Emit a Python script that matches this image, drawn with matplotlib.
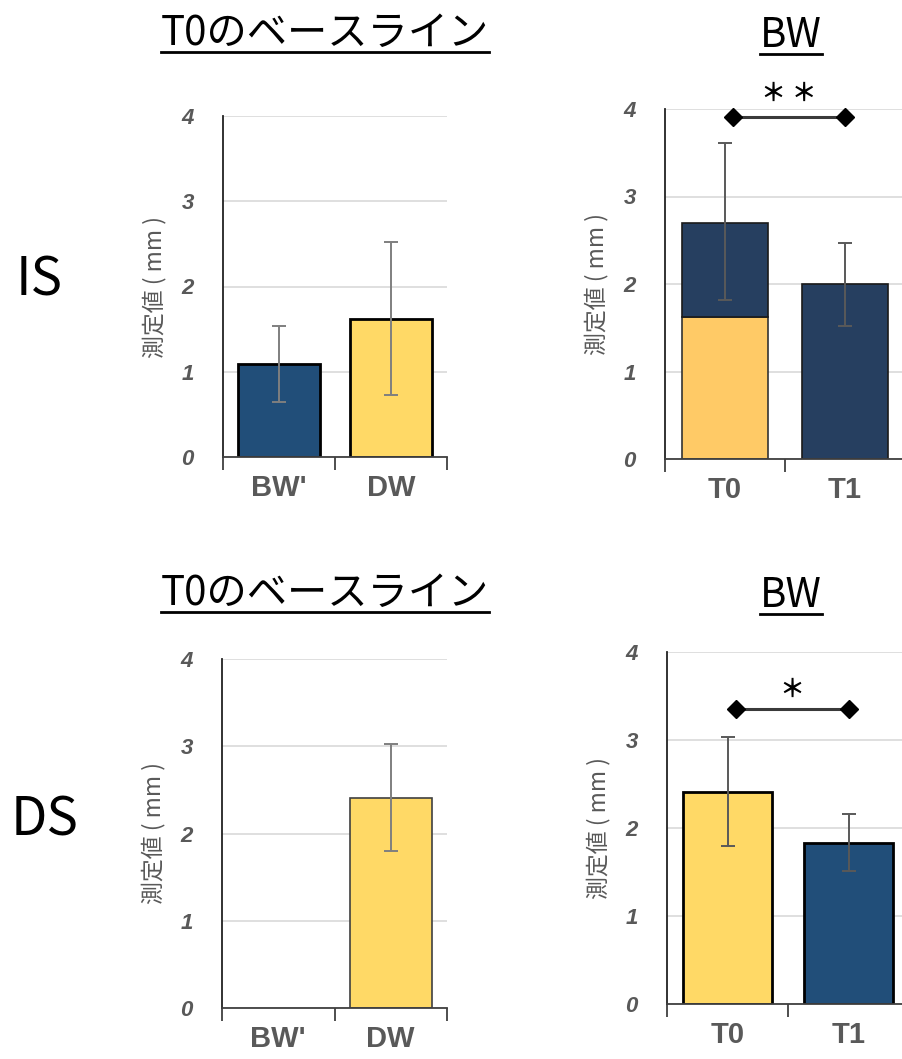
import matplotlib
matplotlib.use('Agg')
import matplotlib.pyplot as plt
from matplotlib.lines import Line2D

plt.rcParams['font.family'] = ['Noto Sans CJK JP', 'DejaVu Sans']

# --- data ---
baseline_cats = ["BW'", "DW"]
bw_cats = ['T0', 'T1']

# IS row
is_base_vals = [1.09, 1.62]
is_base_err_lo = [0.64, 0.73]
is_base_err_hi = [1.54, 2.52]
is_bw_lower = [1.62, 0.0]      # yellow part of the stacked T0 bar
is_bw_total = [2.70, 2.00]
is_bw_err_lo = [1.82, 1.52]
is_bw_err_hi = [3.61, 2.47]
is_sig = '＊ ＊'

# DS row
ds_base_vals = [0.0, 2.41]
ds_base_err_lo = [None, 1.80]
ds_base_err_hi = [None, 3.03]
ds_bw_vals = [2.41, 1.83]
ds_bw_err_lo = [1.80, 1.51]
ds_bw_err_hi = [3.03, 2.16]
ds_sig = '＊'

NAVY = '#214E79'
NAVY2 = '#263F60'
YELLOW = '#FFD966'
YELLOW2 = '#FFCA66'
GRAY_TXT = '#595959'

W, H = 902, 1059
fig = plt.figure(figsize=(W / 100, H / 100), dpi=100)


def px_axes(l, t, r, b):
    return fig.add_axes([l / W, 1 - b / H, (r - l) / W, (b - t) / H])


def style_axes(ax, cats):
    ax.set_xlim(-0.5, len(cats) - 0.5)
    ax.set_ylim(0, 4)
    ax.set_yticks([0, 1, 2, 3, 4])
    ax.yaxis.grid(True, color='#D9D9D9', lw=1.2)
    ax.set_axisbelow(True)
    for s in ('top', 'right'):
        ax.spines[s].set_visible(False)
    ax.spines['left'].set_color('#222222')
    ax.spines['left'].set_linewidth(1.3)
    ax.spines['bottom'].set_color('#404040')
    ax.spines['bottom'].set_linewidth(1.3)
    ax.set_xticks(range(len(cats)))
    ax.set_xticklabels(cats, fontsize=21, fontweight='bold', color=GRAY_TXT,
                       family='Liberation Sans')
    ax.set_xticks([i - 0.5 for i in range(len(cats) + 1)], minor=True)
    ax.tick_params(axis='x', which='major', length=0, pad=12)
    ax.tick_params(axis='x', which='minor', length=9, width=1.3, color='#404040')
    ax.tick_params(axis='y', length=0, pad=21)
    for lab in ax.get_yticklabels():
        lab.set_fontsize(16)
        lab.set_fontweight('bold')
        lab.set_fontstyle('italic')
        lab.set_color(GRAY_TXT)
        lab.set_family('Liberation Sans')
    ax.set_ylabel('測定値 ( mm )', fontsize=16.5, color=GRAY_TXT, labelpad=11)


def errbars(ax, vals, lo, hi, color):
    for i, (v, a, b) in enumerate(zip(vals, lo, hi)):
        if a is None:
            continue
        ax.errorbar(i, v, yerr=[[v - a], [b - v]], fmt='none', ecolor=color,
                    elinewidth=1.4, capsize=5, capthick=1.4)


def bracket(ax, y, star, star_y, star_size):
    ax.plot([0.07, 1.0], [y, y], color='#3A3A3A', lw=2.2, marker='D',
            markersize=9.5, markerfacecolor='black', markeredgecolor='black',
            clip_on=False, zorder=5)
    ax.text(0.535, star_y, star, ha='center', va='center', fontsize=star_size,
            fontweight='bold', color='black', clip_on=False)


# IS baseline
ax1 = px_axes(223, 116, 447, 457)
style_axes(ax1, baseline_cats)
ax1.bar(range(2), is_base_vals, width=0.73, color=[NAVY, YELLOW],
        edgecolor='black', linewidth=2, zorder=2)
errbars(ax1, is_base_vals, is_base_err_lo, is_base_err_hi, '#7F7F7F')

# IS BW
ax2 = px_axes(665, 109, 905, 459)
style_axes(ax2, bw_cats)
upper = [t - l for t, l in zip(is_bw_total, is_bw_lower)]
ax2.bar(range(2), is_bw_lower, width=0.72, color=YELLOW2, edgecolor='#333333',
        linewidth=1.2, zorder=2)
ax2.bar(range(2), upper, bottom=is_bw_lower, width=0.72, color=NAVY2,
        edgecolor='#1A1A1A', linewidth=1.2, zorder=2)
errbars(ax2, is_bw_total, is_bw_err_lo, is_bw_err_hi, '#595959')
bracket(ax2, 3.91, is_sig, 4.17, 18)

# DS baseline
ax3 = px_axes(222, 659, 447, 1008)
style_axes(ax3, baseline_cats)
ax3.bar([1], ds_base_vals[1:], width=0.73, color=YELLOW, edgecolor='#404040',
        linewidth=1.2, zorder=2)
errbars(ax3, ds_base_vals, ds_base_err_lo, ds_base_err_hi, '#7F7F7F')

# DS BW
ax4 = px_axes(667, 652, 909, 1004)
style_axes(ax4, bw_cats)
ax4.bar(range(2), ds_bw_vals, width=0.73, color=[YELLOW, NAVY],
        edgecolor='black', linewidth=2, zorder=2)
errbars(ax4, ds_bw_vals, ds_bw_err_lo, ds_bw_err_hi, '#595959')
bracket(ax4, 3.35, ds_sig, 3.57, 18)

# titles with underline
titles = [('T0のベースライン', 325, 45, 29), ('BW', 791, 47, 29),
          ('T0のベースライン', 325, 605, 29), ('BW', 791, 607, 29)]
fig.canvas.draw()
renderer = fig.canvas.get_renderer()
for txt, x, y, fs in titles:
    t = fig.text(x / W, 1 - y / H, txt, ha='center', va='baseline', fontsize=fs)
    bb = t.get_window_extent(renderer=renderer)
    uy = 1 - (y + 7) / H
    fig.add_artist(Line2D([bb.x0 / W, bb.x1 / W], [uy, uy], color='black',
                          lw=2, transform=fig.transFigure))

fig.text(16 / W, 1 - 296 / H, 'IS', fontsize=38, ha='left', va='baseline')
fig.text(11 / W, 1 - 836 / H, 'DS', fontsize=38, ha='left', va='baseline')

fig.savefig('out.png', dpi=100)
